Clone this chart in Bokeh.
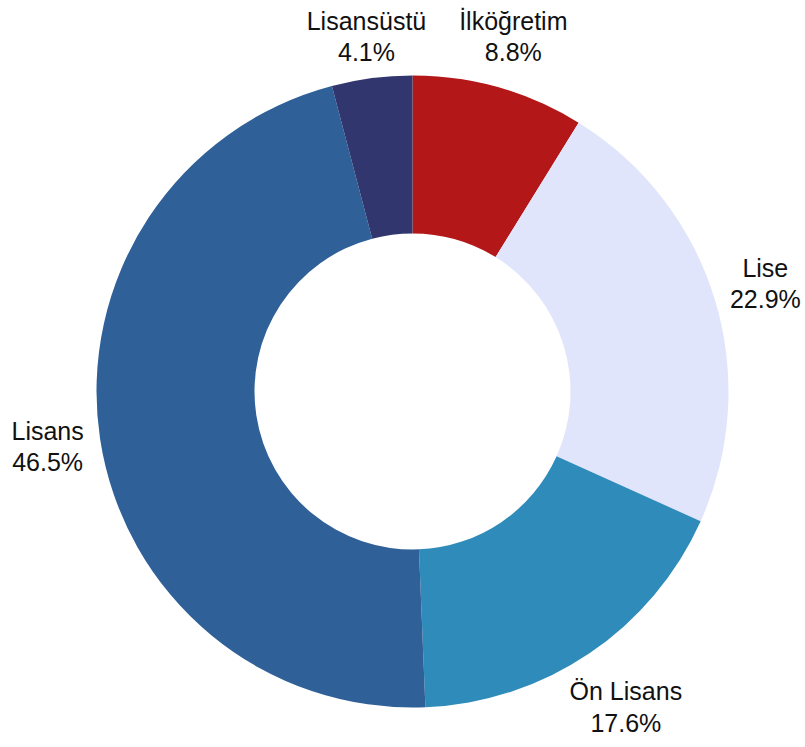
import math
from bokeh.plotting import figure
from bokeh.models import Range1d, ColumnDataSource
from bokeh.core.properties import value
from bokeh.embed import file_html
from bokeh.resources import INLINE

categories = ["İlköğretim", "Lise", "Ön Lisans", "Lisans", "Lisansüstü"]
shares = [8.8, 22.9, 17.6, 46.5, 4.1]
colors = ["#B31718", "#E1E5FB", "#2E8BBA", "#2F6098", "#31366E"]

W, H = 805, 747
CX, CY = 412, -391
R_OUT, R_IN = 316, 158
R_LAB = [369, 369, 381, 369, 358]

total = sum(shares)
starts, ends, lx, ly, labels = [], [], [], [], []
cum = 0.0
for c, s, rl in zip(categories, shares, R_LAB):
    a0 = math.pi / 2 - 2 * math.pi * cum / total
    cum += s
    a1 = math.pi / 2 - 2 * math.pi * cum / total
    starts.append(a0)
    ends.append(a1)
    mid = (a0 + a1) / 2
    lx.append(CX + rl * math.cos(mid))
    ly.append(CY + rl * math.sin(mid))
    labels.append(f"{c}\n{s:.1f}%")

src = ColumnDataSource(dict(start=starts, end=ends, color=colors))
lab = ColumnDataSource(dict(x=lx, y=ly, text=labels))

p = figure(width=W, height=H, output_backend="svg", toolbar_location=None,
           x_range=Range1d(0, W), y_range=Range1d(-H, 0),
           min_border=0)
p.axis.visible = False
p.grid.visible = False
p.outline_line_color = None
p.background_fill_color = "white"

p.annular_wedge(x=CX, y=CY, inner_radius=R_IN, outer_radius=R_OUT,
                start_angle="start", end_angle="end", direction="clock",
                fill_color="color", line_color=None, source=src)

p.text(x="x", y="y", text="text", source=lab, text_align="center",
       text_baseline="middle", text_font=value("Liberation Sans"),
       text_font_size="25px", text_color="#111111", text_line_height=1.12)

open("out.html", "w").write(file_html(p, INLINE))
